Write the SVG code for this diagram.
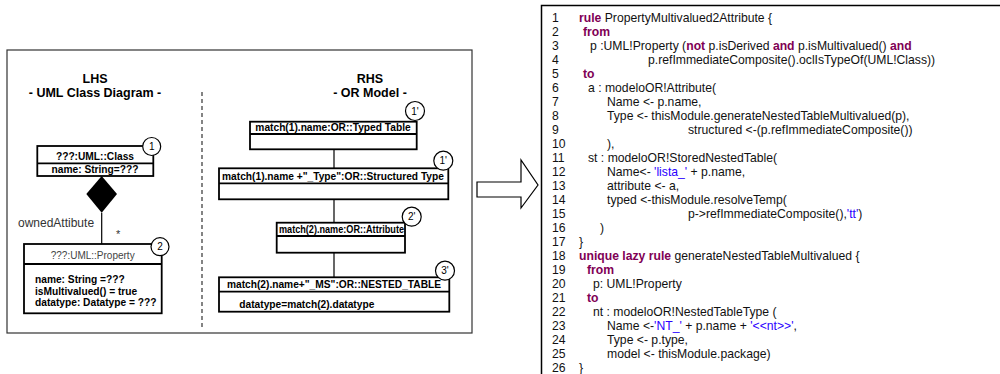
<svg xmlns="http://www.w3.org/2000/svg" width="1000" height="374" viewBox="0 0 1000 374">
<style>
.frame{fill:none;stroke:#333;stroke-width:1.2}
.box{fill:#fff;stroke:#000;stroke-width:1.8}
.conn{stroke:#000;stroke-width:1.2;fill:none}
.circ{fill:#fff;stroke:#000;stroke-width:1.2}
.t{font-family:"Liberation Sans",Arial,sans-serif;fill:#000}
.g{fill:#333}
.title{font-size:12.5px;font-weight:bold;text-anchor:middle}
.hdr{font-size:10.2px;font-weight:bold;text-anchor:middle}
.attr{font-size:10.2px;font-weight:bold}
.num{font-size:10px;text-anchor:middle}
.code{font-size:12.2px;fill:#111}
.k{fill:#7f0055;font-weight:bold}
.s{fill:#2a00ff}
</style>
<rect width="1000" height="374" fill="#fff"/>
<!-- left frame -->
<rect class="frame" x="7" y="50" width="465" height="283"/>
<line x1="202" y1="92" x2="202" y2="327" stroke="#333" stroke-width="1.2" stroke-dasharray="4,3"/>
<text class="t title" x="95" y="83">LHS</text>
<text class="t title" x="95" y="97">- UML Class Diagram -</text>
<text class="t title" x="370" y="83">RHS</text>
<text class="t title" x="370" y="97">- OR Model -</text>

<g id="connectors">
<polygon points="101.7,176 117,194 101.7,212.7 86.3,194" fill="#000"/>
<line class="conn" x1="101.7" y1="212.7" x2="101.7" y2="244"/>
<line class="conn" x1="334" y1="149.3" x2="334" y2="168.3"/>
<line class="conn" x1="334" y1="199.3" x2="334" y2="222.7"/>
<line class="conn" x1="334" y1="252.7" x2="334" y2="277.3"/>
<text class="t g" x="18" y="227" font-size="12">ownedAttibute</text>
<text class="t g" x="116" y="238" font-size="11">*</text>
</g>

<g id="uml-class">
<rect class="box" x="37.3" y="146" width="116" height="30"/>
<line class="box" x1="37.3" y1="163.3" x2="153.3" y2="163.3"/>
<text class="t hdr" x="95" y="160">???:UML::Class</text>
<text class="t hdr" x="95" y="173">name: String=???</text>
<circle class="circ" cx="151.7" cy="146.5" r="9"/>
<text class="t num" x="151.7" y="150">1</text>
</g>

<g id="uml-property">
<rect class="box" x="24" y="244" width="137.7" height="69.3"/>
<line class="box" x1="24" y1="264" x2="161.7" y2="264"/>
<text class="t" x="92.7" y="258.5" font-size="10" text-anchor="middle" style="fill:#444">???:UML::Property</text>
<text class="t attr" x="35" y="283">name: String =???</text>
<text class="t attr" x="35" y="294.5">isMultivalued() = true</text>
<text class="t attr" x="35" y="305.5">datatype: Datatype = ???</text>
<circle class="circ" cx="160" cy="246.7" r="9"/>
<text class="t num" x="160" y="250.2">2</text>
</g>

<g id="or-typed-table">
<rect class="box" x="250" y="121.7" width="166.7" height="27.6"/>
<line class="box" x1="250" y1="134" x2="416.7" y2="134"/>
<text class="t hdr" x="333" y="130.5">match(1).name:OR::Typed Table</text>
<circle class="circ" cx="415" cy="111" r="9.5"/>
<text class="t num" x="415" y="114.5">1'</text>
</g>

<g id="or-structured-type">
<rect class="box" x="219" y="168.3" width="229.3" height="31"/>
<line class="box" x1="219" y1="183.3" x2="448.3" y2="183.3"/>
<text class="t hdr" x="333" y="179.5">match(1).name +"_Type":OR::Structured Type</text>
<circle class="circ" cx="443.3" cy="160.7" r="9.5"/>
<text class="t num" x="443.3" y="164.2">1'</text>
</g>

<g id="or-attribute">
<rect class="box" x="276.7" y="222.7" width="128.3" height="30"/>
<line class="box" x1="276.7" y1="236" x2="405" y2="236"/>
<text class="t hdr" x="341.5" y="232.5" textLength="125" lengthAdjust="spacingAndGlyphs">match(2).name:OR::Attribute</text>
<circle class="circ" cx="411.7" cy="216.7" r="9.5"/>
<text class="t num" x="411.7" y="220.2">2'</text>
</g>

<g id="or-nested-table">
<rect class="box" x="219" y="277.3" width="230.3" height="34.4"/>
<line class="box" x1="219" y1="291.7" x2="449.3" y2="291.7"/>
<text class="t hdr" x="334" y="288">match(2).name+"_MS":OR::NESTED_TABLE</text>
<text class="t attr" x="239.3" y="308">datatype=match(2).datatype</text>
<circle class="circ" cx="445" cy="270.7" r="9.5"/>
<text class="t num" x="445" y="274.2">3'</text>
</g>

<g id="transform-arrow">
<polygon points="477,182 521,182 521,160 538,185 521,208 521,197 477,197" fill="#fff" stroke="#000" stroke-width="1.2"/>
</g>

<g id="atl-code">
<rect x="541.5" y="5.5" width="470" height="380" fill="#fff" stroke="#000" stroke-width="1.5"/>
<g class="t code">
<text x="552" y="22">1</text>
<text x="552" y="36">2</text>
<text x="552" y="50">3</text>
<text x="552" y="64">4</text>
<text x="552" y="78">5</text>
<text x="552" y="92">6</text>
<text x="552" y="106">7</text>
<text x="552" y="120">8</text>
<text x="552" y="134">9</text>
<text x="552" y="148">10</text>
<text x="552" y="162">11</text>
<text x="552" y="176">12</text>
<text x="552" y="190">13</text>
<text x="552" y="204">14</text>
<text x="552" y="218">15</text>
<text x="552" y="232">16</text>
<text x="552" y="246">17</text>
<text x="552" y="260">18</text>
<text x="552" y="274">19</text>
<text x="552" y="288">20</text>
<text x="552" y="302">21</text>
<text x="552" y="316">22</text>
<text x="552" y="330">23</text>
<text x="552" y="344">24</text>
<text x="552" y="358">25</text>
<text x="552" y="372">26</text>

<text x="579" y="22"><tspan class="k">rule</tspan> PropertyMultivalued2Attribute {</text>
<text x="583" y="36"><tspan class="k">from</tspan></text>
<text x="590" y="50">p :UML!Property (<tspan class="k">not</tspan> p.isDerived <tspan class="k">and</tspan> p.isMultivalued() <tspan class="k">and</tspan></text>
<text x="648" y="64">p.refImmediateComposite().oclIsTypeOf(UML!Class))</text>
<text x="583" y="78"><tspan class="k">to</tspan></text>
<text x="588" y="92">a : modeloOR!Attribute(</text>
<text x="607" y="106">Name &lt;- p.name,</text>
<text x="607" y="120">Type &lt;- thisModule.generateNestedTableMultivalued(p),</text>
<text x="688" y="134">structured &lt;-(p.refImmediateComposite())</text>
<text x="607" y="148">),</text>
<text x="588" y="162">st : modeloOR!StoredNestedTable(</text>
<text x="607" y="176">Name&lt;- <tspan class="s">'lista_'</tspan> + p.name,</text>
<text x="607" y="190">attribute &lt;- a,</text>
<text x="607" y="204">typed &lt;-thisModule.resolveTemp(</text>
<text x="688" y="218">p-&gt;refImmediateComposite(),<tspan class="s">'tt'</tspan>)</text>
<text x="600" y="232">)</text>
<text x="579" y="246">}</text>
<text x="579" y="260"><tspan class="k">unique lazy rule</tspan> generateNestedTableMultivalued {</text>
<text x="587" y="274"><tspan class="k">from</tspan></text>
<text x="593" y="288">p: UML!Property</text>
<text x="587" y="302"><tspan class="k">to</tspan></text>
<text x="593" y="316">nt : modeloOR!NestedTableType (</text>
<text x="607" y="330">Name &lt;-<tspan class="s">'NT_'</tspan> + p.name + <tspan class="s">'&lt;&lt;nt&gt;&gt;'</tspan>,</text>
<text x="607" y="344">Type &lt;- p.type,</text>
<text x="607" y="358">model &lt;- thisModule.package)</text>
<text x="579" y="372">}</text>
</g>
</g>
</svg>
